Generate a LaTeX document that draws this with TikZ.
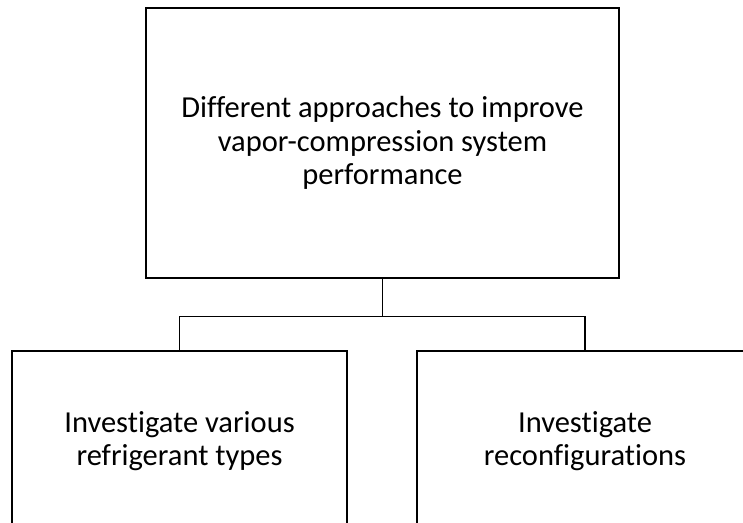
\documentclass[tikz,border=0pt]{standalone}
\usepackage{fontspec}
\setmainfont{Carlito}[RawFeature={-liga;-clig}]
\begin{document}
\begin{tikzpicture}[x=1pt,y=1pt,
  box/.style={draw=black, line width=1.2pt, rectangle, align=center,
    font=\fontsize{30.5}{33.5}\selectfont, inner sep=0pt},
  conn/.style={draw=black, line width=1.5pt}]
\clip (0,0) rectangle (743,-522);
\fill[white] (0,0) rectangle (743,-522);
\node[box, minimum width=473pt, minimum height=270pt] (top) at (382.5,-143)
  {Different approaches to improve\\vapor-compression system\\performance};
\node[box, minimum width=335pt, minimum height=180pt] (left) at (179.5,-441)
  {Investigate various\\refrigerant types};
\node[box, minimum width=336pt, minimum height=180pt] (right) at (585,-441)
  {Investigate\\reconfigurations};
\coordinate (j) at ([yshift=-38pt]top.south);
\draw[conn] (top.south) -- (j);
\draw[conn] (j) -| (left.north);
\draw[conn] (j) -| (right.north);
\end{tikzpicture}
\end{document}
